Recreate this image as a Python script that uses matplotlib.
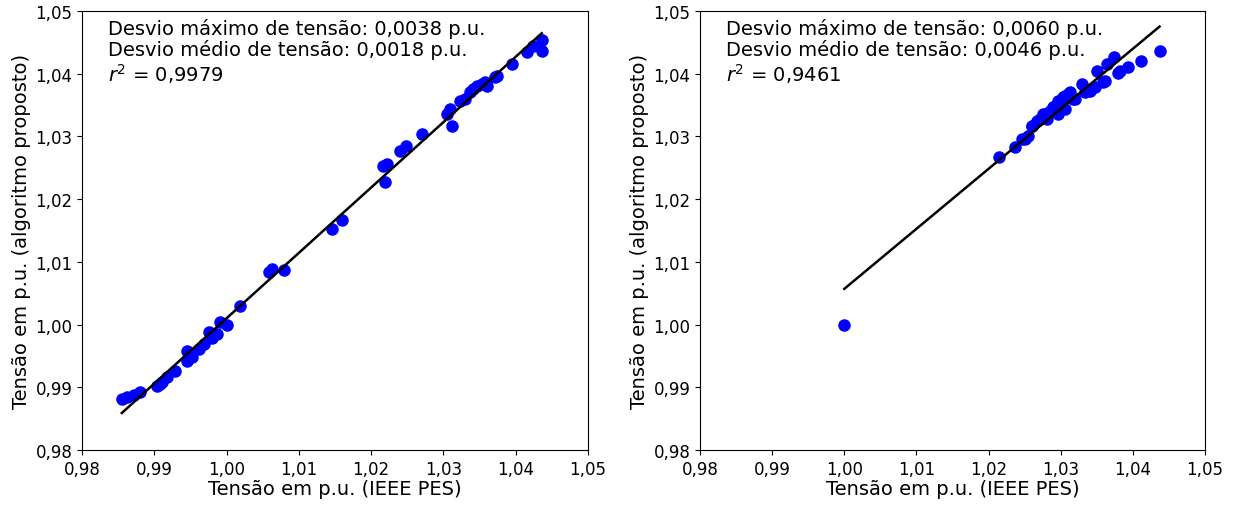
import numpy as np
import matplotlib
matplotlib.use('Agg')
import matplotlib.pyplot as plt
from matplotlib.ticker import FuncFormatter

# Tensões nas barras: referência (IEEE PES) x algoritmo proposto - caso 1
ieee_1 = [0.9855, 0.9862, 0.9872, 0.9880, 0.9904, 0.9908, 0.9911, 0.9918,
          0.9929, 0.9945, 0.9945, 0.9952, 0.9962, 0.9969, 0.9976, 0.9980,
          0.9987, 0.9991, 1.0001, 1.0019, 1.0059, 1.0063, 1.0079, 1.0146,
          1.0160, 1.0216, 1.0222, 1.0219, 1.0240, 1.0248, 1.0270, 1.0305,
          1.0309, 1.0312, 1.0323, 1.0330, 1.0337, 1.0341, 1.0346, 1.0353,
          1.0357, 1.0360, 1.0371, 1.0374, 1.0395, 1.0416, 1.0424, 1.0436,
          1.0436]
prop_1 = [0.9882, 0.9885, 0.9887, 0.9893, 0.9902, 0.9905, 0.9908, 0.9916,
          0.9926, 0.9958, 0.9942, 0.9948, 0.9961, 0.9969, 0.9988, 0.9979,
          0.9985, 1.0004, 0.9999, 1.0030, 1.0084, 1.0089, 1.0087, 1.0153,
          1.0167, 1.0253, 1.0256, 1.0227, 1.0276, 1.0284, 1.0304, 1.0336,
          1.0344, 1.0317, 1.0356, 1.0360, 1.0371, 1.0376, 1.0380, 1.0384,
          1.0387, 1.0381, 1.0395, 1.0396, 1.0415, 1.0435, 1.0444, 1.0454,
          1.0436]

# Caso 2
ieee_2 = [1.0000, 1.0215, 1.0237, 1.0246, 1.0251, 1.0255, 1.0260, 1.0260,
          1.0267, 1.0271, 1.0275, 1.0278, 1.0281, 1.0285, 1.0289, 1.0292,
          1.0296, 1.0296, 1.0299, 1.0303, 1.0306, 1.0306, 1.0310, 1.0313,
          1.0317, 1.0320, 1.0329, 1.0334, 1.0340, 1.0348, 1.0350, 1.0359,
          1.0362, 1.0364, 1.0374, 1.0379, 1.0382, 1.0393, 1.0411, 1.0437]
prop_2 = [1.0000, 1.0267, 1.0283, 1.0296, 1.0296, 1.0301, 1.0317, 1.0317,
          1.0325, 1.0328, 1.0336, 1.0336, 1.0328, 1.0341, 1.0347, 1.0349,
          1.0356, 1.0336, 1.0356, 1.0363, 1.0344, 1.0364, 1.0368, 1.0371,
          1.0360, 1.0360, 1.0384, 1.0371, 1.0373, 1.0379, 1.0404, 1.0387,
          1.0388, 1.0415, 1.0427, 1.0401, 1.0404, 1.0411, 1.0420, 1.0436]

textos = [
    'Desvio máximo de tensão: 0,0038 p.u.\nDesvio médio de tensão: 0,0018 p.u.\n$r^2$ = 0,9979',
    'Desvio máximo de tensão: 0,0060 p.u.\nDesvio médio de tensão: 0,0046 p.u.\n$r^2$ = 0,9461',
]

plt.rcParams['font.size'] = 12
plt.rcParams['font.family'] = 'DejaVu Sans'

virgula = FuncFormatter(lambda v, pos: f'{v:.2f}'.replace('.', ','))

fig = plt.figure(figsize=(12.34, 5.06), dpi=100)
posicoes = [[0.0665, 0.1087, 0.41, 0.8676], [0.5673, 0.1087, 0.4092, 0.8676]]

for pos, x, y, txt in zip(posicoes, [ieee_1, ieee_2], [prop_1, prop_2], textos):
    ax = fig.add_axes(pos)
    x = np.array(x)
    y = np.array(y)
    ax.plot(x, y, 'o', color='#0000ff', markersize=8, zorder=2)
    # reta de regressão linear entre as duas tensões
    a, b = np.polyfit(x, y, 1)
    xl = np.array([x.min(), x.max()])
    ax.plot(xl, a * xl + b, color='black', linewidth=1.8, zorder=3)
    ax.set_xlim(0.98, 1.05)
    ax.set_ylim(0.98, 1.05)
    ax.set_xticks(np.arange(0.98, 1.0501, 0.01))
    ax.set_yticks(np.arange(0.98, 1.0501, 0.01))
    ax.xaxis.set_major_formatter(virgula)
    ax.yaxis.set_major_formatter(virgula)
    ax.set_xlabel('Tensão em p.u. (IEEE PES)', fontsize=14, labelpad=1)
    ax.set_ylabel('Tensão em p.u. (algoritmo proposto)', fontsize=14, labelpad=3)
    ax.text(0.051, 0.985, txt, transform=ax.transAxes, va='top', ha='left',
            fontsize=14, linespacing=1.1)

fig.savefig('out.png', dpi=100)
